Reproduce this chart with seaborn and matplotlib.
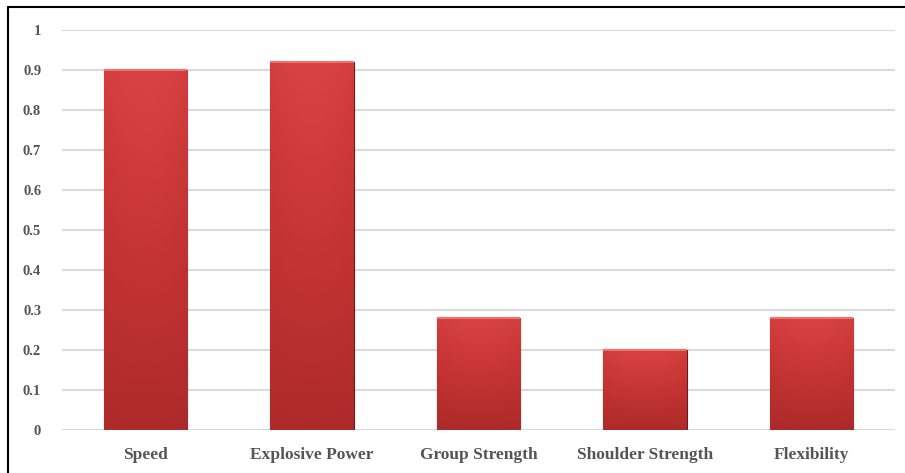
import numpy as np
import pandas as pd
import matplotlib.pyplot as plt
import matplotlib.colors as mcolors
from matplotlib.lines import Line2D
import seaborn as sns

categories = ['Speed', 'Explosive Power', 'Group Strength', 'Shoulder Strength', 'Flexibility']
values = [0.90, 0.92, 0.28, 0.20, 0.28]
y_ticks = [0, 0.1, 0.2, 0.3, 0.4, 0.5, 0.6, 0.7, 0.8, 0.9, 1]
y_labels = ['0', '0.1', '0.2', '0.3', '0.4', '0.5', '0.6', '0.7', '0.8', '0.9', '1']

df = pd.DataFrame({'cat': categories, 'val': values})

sns.set_style('white')
plt.rcParams['font.family'] = ['Liberation Serif', 'DejaVu Serif']

fig = plt.figure(figsize=(9.05, 4.73), dpi=100)
ax = fig.add_axes([62 / 905, 43 / 473, 833 / 905, 400 / 473])

sns.barplot(data=df, x='cat', y='val', color='#c83232', width=0.5, ax=ax,
            edgecolor='#6e1818', linewidth=0.8, zorder=3)

# gradient fill over each bar (lighter top, darker bottom)
grad_cmap = mcolors.LinearSegmentedColormap.from_list(
    'redgrad', ['#a82828', '#c53434', '#dc4444'])
for p in ax.patches:
    x0, y0 = p.get_x(), p.get_y()
    w, h = p.get_width(), p.get_height()
    vert = np.linspace(0, 1, 64).reshape(-1, 1)
    horiz = 1 - 0.2 * np.abs(np.linspace(-1, 1, 32)).reshape(1, -1) ** 2
    img = vert * 0.85 * horiz + 0.1
    im = ax.imshow(img, cmap=grad_cmap, vmin=0, vmax=1, origin='lower',
                   extent=[x0, x0 + w, y0, y0 + h], aspect='auto',
                   zorder=3.5, interpolation='bicubic')
    im.set_clip_path(p)
    ax.plot([x0, x0 + w], [y0 + h, y0 + h], color='#f07070', lw=1.5,
            zorder=4, solid_capstyle='butt')

ax.set_xlim(-0.5, len(categories) - 0.5)
ax.set_ylim(0, 1)
ax.set_yticks(y_ticks)
ax.set_yticklabels(y_labels)
ax.grid(axis='y', color='#dadada', linewidth=1.5, zorder=0)
ax.grid(axis='x', visible=False)
for s in ax.spines.values():
    s.set_visible(False)

ax.tick_params(axis='y', length=0, pad=15, labelsize=10.5, labelcolor='#555555')
ax.tick_params(axis='x', length=0, pad=12, labelsize=12.5, labelcolor='#555555')
for lab in ax.get_xticklabels() + ax.get_yticklabels():
    lab.set_fontweight('bold')
ax.set_xlabel('')
ax.set_ylabel('')

# outer frame (top and left only)
fig.add_artist(Line2D([8 / 905, 8 / 905], [0, 1 - 7 / 473], color='black', lw=1.5,
                      transform=fig.transFigure))
fig.add_artist(Line2D([8 / 905, 1], [1 - 7 / 473, 1 - 7 / 473], color='black', lw=1.5,
                      transform=fig.transFigure))

fig.savefig('out.png', dpi=100)
